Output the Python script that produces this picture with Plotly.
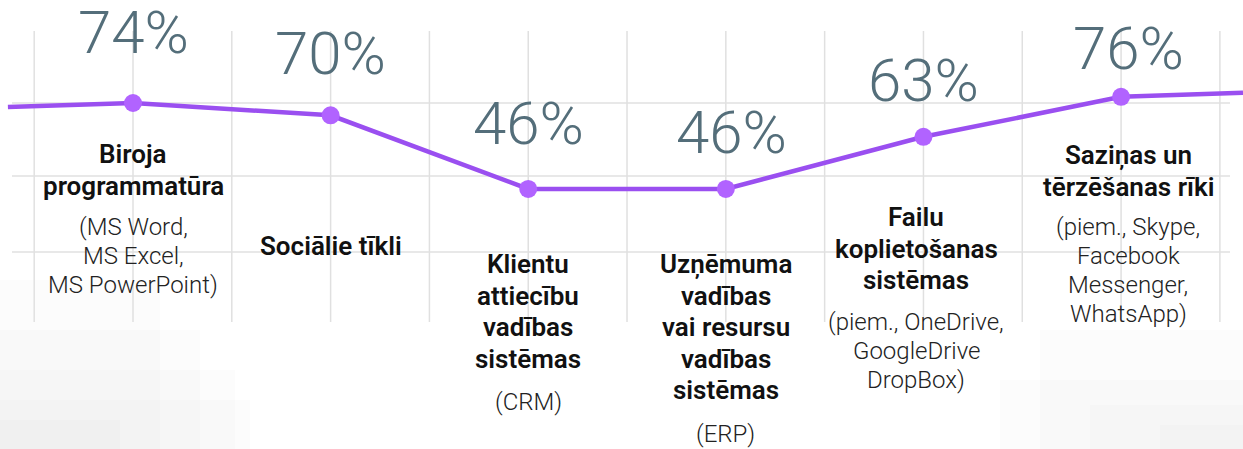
import plotly.graph_objects as go

# ---- data ----
categories = [
    "Biroja<br>programmatūra",
    "Sociālie tīkli",
    "Klientu<br>attiecību<br>vadības<br>sistēmas",
    "Uzņēmuma<br>vadības<br>vai resursu<br>vadības<br>sistēmas",
    "Failu<br>koplietošanas<br>sistēmas",
    "Saziņas un<br>tērzēšanas rīki",
]
details = [
    "(MS Word,<br>MS Excel,<br>MS PowerPoint)",
    "",
    "(CRM)",
    "(ERP)",
    "(piem., OneDrive,<br>GoogleDrive<br>DropBox)",
    "(piem., Skype,<br>Facebook<br>Messenger,<br>WhatsApp)",
]
values = [74, 70, 46, 46, 63, 76]
value_labels = ["74%", "70%", "46%", "46%", "63%", "76%"]
# decorative line run-out beyond first/last point
lead_in_value = 72.7
lead_out_value = 77.3

# ---- layout / style config ----
W, H = 1243, 449
LINE_COLOR = "#9a4ff0"
MARKER_COLOR = "#b163ff"
PCT_COLOR = "#546e7a"
GRID_COLOR = "#e0e0e0"
FONT = "Roboto"
TITLE_SIZE, TITLE_STEP = 26, 31.5
SUB_SIZE, SUB_STEP = 24, 29

x_idx = list(range(len(values)))
x_range = [-0.673, 5.617]
y_range = [-38.7, 107.55]

pct_yshift = [33, 24, 28, 19, 19, 11]
pct_xshift = [0, 0, 0, 6, 0, 7]
title_baseline_px = [163, 255, 273, 273, 226, 164]
sub_baseline_px = [235, None, 410, 442, 330, 235]
label_xshift = [0, 0, 0, 0, -7, 7]


def py(px):
    return 1 - px / H


fig = go.Figure()

line_x = [x_range[0] + 0.04] + x_idx + [x_range[1]]
line_y = [lead_in_value] + values + [lead_out_value]
fig.add_trace(go.Scatter(x=line_x, y=line_y, mode="lines",
                         line=dict(color=LINE_COLOR, width=4.5),
                         hoverinfo="skip", showlegend=False))
fig.add_trace(go.Scatter(x=x_idx, y=values, mode="markers",
                         marker=dict(color=MARKER_COLOR, size=18, line=dict(width=0)),
                         showlegend=False))

shapes = []
# very faint background shading at bottom corners (stacked translucent steps)
for (x0, y0, x1, y1) in [
    (0, 280, 160, 449), (0, 330, 200, 449), (0, 370, 235, 449), (0, 400, 250, 449),
    (0, 420, 120, 449),
    (1040, 330, 1243, 449), (1000, 380, 1243, 449), (1090, 405, 1243, 449),
    (1160, 425, 1243, 449),
]:
    shapes.append(dict(type="rect", xref="paper", yref="paper",
                       x0=x0 / W, x1=x1 / W, y0=py(y1), y1=py(y0),
                       fillcolor="rgba(0,0,0,0.011)", line=dict(width=0), layer="below"))
# vertical grid lines at half-category steps
k = -0.5
while k <= 5.5 + 1e-9:
    shapes.append(dict(type="line", xref="x", yref="paper", x0=k, x1=k,
                       y0=py(322), y1=py(31),
                       line=dict(color=GRID_COLOR, width=1.5), layer="below"))
    k += 0.5
# horizontal grid lines
for ypx in [103, 176, 252]:
    shapes.append(dict(type="line", xref="paper", yref="paper",
                       x0=12 / W, x1=1230 / W, y0=py(ypx), y1=py(ypx),
                       line=dict(color=GRID_COLOR, width=1.5), layer="below"))

annotations = []
for i, (v, lab) in enumerate(zip(values, value_labels)):
    annotations.append(dict(x=i, y=v, xref="x", yref="y", text=lab,
                            showarrow=False, xanchor="center", yanchor="bottom",
                            yshift=pct_yshift[i], xshift=pct_xshift[i],
                            font=dict(family=FONT, size=60, color=PCT_COLOR, weight=300)))


def add_lines(i, text, base_px, size, step, color, weight):
    for j, line in enumerate(text.split("<br>")):
        top = base_px + j * step - (0.93 * size + 1.5)
        annotations.append(dict(x=i, y=py(top), xref="x", yref="paper",
                                text=line, showarrow=False, xanchor="center",
                                yanchor="top", align="center", xshift=label_xshift[i],
                                font=dict(family=FONT, size=size, color=color,
                                          weight=weight)))


for i, t in enumerate(categories):
    add_lines(i, t, title_baseline_px[i], TITLE_SIZE, TITLE_STEP, "#111111", 600)
    if details[i]:
        add_lines(i, details[i], sub_baseline_px[i], SUB_SIZE, SUB_STEP, "#222222", 300)

fig.update_layout(
    width=W, height=H,
    margin=dict(l=0, r=0, t=0, b=0),
    paper_bgcolor="white", plot_bgcolor="rgba(0,0,0,0)",
    xaxis=dict(range=x_range, visible=False, fixedrange=True),
    yaxis=dict(range=y_range, visible=False, fixedrange=True),
    shapes=shapes, annotations=annotations,
    showlegend=False,
)

fig.write_html("out.html",
               config={"displayModeBar": False, "staticPlot": True},
               post_script="document.body.style.margin='0';document.body.style.overflow='hidden';")
